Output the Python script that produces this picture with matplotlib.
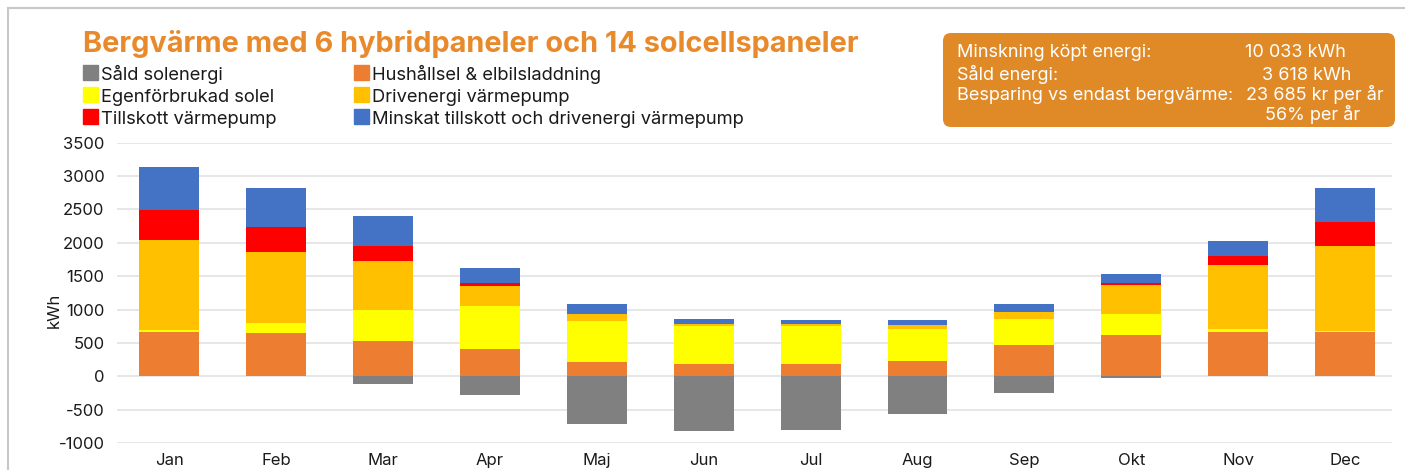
import matplotlib.pyplot as plt
import numpy as np
from matplotlib.patches import FancyBboxPatch, Rectangle
from matplotlib.lines import Line2D

plt.rcParams['font.family'] = ['Inter', 'DejaVu Sans']
plt.rcParams['axes.unicode_minus'] = False

months = ["Jan", "Feb", "Mar", "Apr", "Maj", "Jun", "Jul", "Aug", "Sep", "Okt", "Nov", "Dec"]
sald = [0, 0, -115, -280, -720, -820, -810, -570, -258, -30, 0, 0]
hush = [670, 654, 530, 405, 217, 178, 178, 232, 470, 618, 669, 669]
egen = [25, 148, 460, 655, 610, 570, 574, 476, 392, 308, 34, 14]
drive = [1345, 1064, 734, 300, 100, 40, 25, 59, 104, 435, 970, 1263]
till = [446, 372, 232, 42, 0, 0, 0, 0, 0, 30, 134, 366]
minskat = [644, 585, 441, 220, 163, 75, 70, 80, 123, 144, 223, 516]

labels = ["Såld solenergi", "Egenförbrukad solel", "Tillskott värmepump",
          "Hushållsel & elbilsladdning", "Drivenergi värmepump",
          "Minskat tillskott och drivenergi värmepump"]
colors = {"sald": "#808080", "hush": "#ED7D31", "egen": "#FFFF00",
          "drive": "#FFC000", "till": "#FF0000", "minskat": "#4472C4"}

W, H = 1405, 470
fig = plt.figure(figsize=(W / 100, H / 100), dpi=100)
ax = fig.add_axes([117 / W, 1 - 443 / H, (1392 - 117) / W, (443 - 142.7) / H])

x = np.arange(len(months))
bw = 0.56
ax.bar(x, sald, bw, color=colors["sald"], zorder=3)
bottom = np.zeros(len(months))
for key, vals in [("hush", hush), ("egen", egen), ("drive", drive),
                  ("till", till), ("minskat", minskat)]:
    ax.bar(x, vals, bw, bottom=bottom, color=colors[key], zorder=3)
    bottom += np.array(vals)

ax.set_ylim(-1000, 3500)
ax.set_xlim(-0.49, 11.44)
ax.set_yticks(range(-1000, 3501, 500))
ax.set_xticks(x)
ax.set_xticklabels(months)
ax.grid(axis="y", color="#E3E3E3", lw=1.2, zorder=0)
for s in ax.spines.values():
    s.set_visible(False)
ax.tick_params(length=0, labelsize=12, colors="#1a1a1a")
ax.tick_params(axis="y", pad=9)
ax.tick_params(axis="x", pad=7)
ax.set_ylabel("kWh", fontsize=12, color="#1a1a1a")
ax.yaxis.set_label_coords(-0.043, 0.44)

# frame lines
fig.add_artist(Line2D([8 / W, 8 / W], [0, 1 - 8 / H], color="#C8C8C8", lw=1.5))
fig.add_artist(Line2D([8 / W, 1], [1 - 8 / H, 1 - 8 / H], color="#C8C8C8", lw=1.5))

# title
fig.text(83 / W, 1 - 52 / H, "Bergvärme med 6 hybridpaneler och 14 solcellspaneler",
         fontsize=20.8, fontweight="bold", color="#E8892B", va="baseline", ha="left")

# legend
leg_items = [("sald", labels[0], 83, 80), ("egen", labels[1], 83, 102), ("till", labels[2], 83, 124),
             ("hush", labels[3], 354, 80), ("drive", labels[4], 354, 102), ("minskat", labels[5], 354, 124)]
for key, lab, lx, ly in leg_items:
    fig.add_artist(Rectangle((lx / W, 1 - ly / H), 15 / W, 15 / H,
                             transform=fig.transFigure, color=colors[key]))
    fig.text((lx + 18) / W, 1 - ly / H, lab, fontsize=13.2, va="baseline", ha="left", color="#1a1a1a")

# info box
box = FancyBboxPatch((943 / W, 1 - 127 / H), (1395 - 943) / W, (127 - 33) / H,
                     boxstyle="round,pad=0,rounding_size=0.0057", transform=fig.transFigure,
                     facecolor="#E08A27", edgecolor="none", mutation_aspect=W / H)
fig.add_artist(box)
rows = [("Minskning köpt energi:", "10 033 kWh", 57, 1245),
        ("Såld energi:", "3 618 kWh", 80, 1262),
        ("Besparing vs endast bergvärme:", "23 685 kr per år", 100, 1246),
        ("", "56% per år", 120, 1265)]
for left, right, ry, rx in rows:
    fig.text(957 / W, 1 - ry / H, left, fontsize=13, color="white", va="baseline", ha="left")
    fig.text(rx / W, 1 - ry / H, right, fontsize=13, color="white", va="baseline", ha="left")

fig.savefig("out.png", dpi=100)
